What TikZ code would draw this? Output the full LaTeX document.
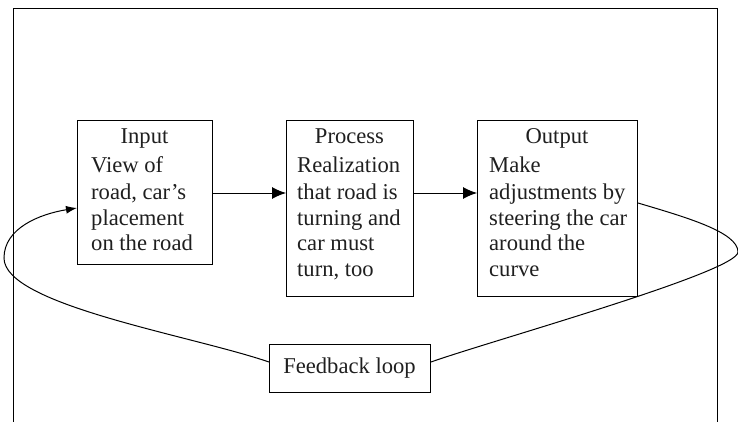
\documentclass[tikz,border=0pt]{standalone}
\usepackage{fontspec}
\setmainfont{Liberation Serif}
\usetikzlibrary{arrows.meta}
\begin{document}
\begin{tikzpicture}[x=1pt,y=-1pt,
  box/.style={draw, line width=1pt, inner sep=0pt, anchor=north west},
  txt/.style={inner sep=0pt, font=\fontsize{22.6}{25.7}\selectfont, text=black!88},
  conn/.style={line width=1pt},
  bigarrow/.style={conn, -{Latex[length=14pt,width=12pt]}},
  smallarrow/.style={conn, -{Latex[length=11pt,width=8pt]}}]
\useasboundingbox (0,0) rectangle (738,422);
% frame
\draw[line width=1pt] (13.5,422) -- (13.5,8.5) -- (717.5,8.5) -- (717.5,422);
% boxes
\node[box, minimum width=135pt, minimum height=144pt] (in) at (77,120) {};
\node[box, minimum width=127pt, minimum height=176pt] (pr) at (286,120) {};
\node[box, minimum width=160pt, minimum height=176pt] (out) at (477,120) {};
\node[box, minimum width=161pt, minimum height=48pt] (fb) at (269,344) {};
% headers
\node[txt, anchor=base] (inH) at (144.5,144) {Input};
\node[txt, anchor=base] (prH) at (349.5,144) {Process};
\node[txt, anchor=base] (outH) at (557,144) {Output};
% input body
\node[txt, anchor=base west] (in1) at (91,173) {View of};
\node[txt, anchor=base west] (in2) at (91,199) {road, car’s};
\node[txt, anchor=base west] (in3) at (91,225) {placement};
\node[txt, anchor=base west] (in4) at (91,250) {on the road};
% process body
\node[txt, anchor=base west] (pr1) at (297,173) {Realization};
\node[txt, anchor=base west] (pr2) at (297,199) {that road is};
\node[txt, anchor=base west] (pr3) at (297,225) {turning and};
\node[txt, anchor=base west] (pr4) at (297,250) {car must};
\node[txt, anchor=base west] (pr5) at (297,276) {turn, too};
% output body
\node[txt, anchor=base west] (out1) at (489,173) {Make};
\node[txt, anchor=base west] (out2) at (489,199) {adjustments by};
\node[txt, anchor=base west] (out3) at (489,225) {steering the car};
\node[txt, anchor=base west] (out4) at (489,250) {around the};
\node[txt, anchor=base west] (out5) at (489,276) {curve};
% feedback text
\node[txt, anchor=base] (fbT) at (349.5,373) {Feedback loop};
% arrows
\draw[bigarrow] (in.east |- 0,193) -- (pr.west |- 0,193);
\draw[bigarrow] (pr.east |- 0,193) -- (out.west |- 0,193);
% feedback loop
\coordinate (rtip) at (738,252);
\coordinate (ltip) at (4,258);
\draw[conn] (out.east |- 0,203) .. controls (685,217) and (738,232) .. (rtip)
  .. controls (738,272) and (490,341) .. (fb.east |- 0,362);
\draw[smallarrow] (fb.west |- 0,362) .. controls (190,335) and (4,305) .. (ltip)
  .. controls (4,228) and (40,214) .. (in.west |- 0,208);
\end{tikzpicture}
\end{document}
